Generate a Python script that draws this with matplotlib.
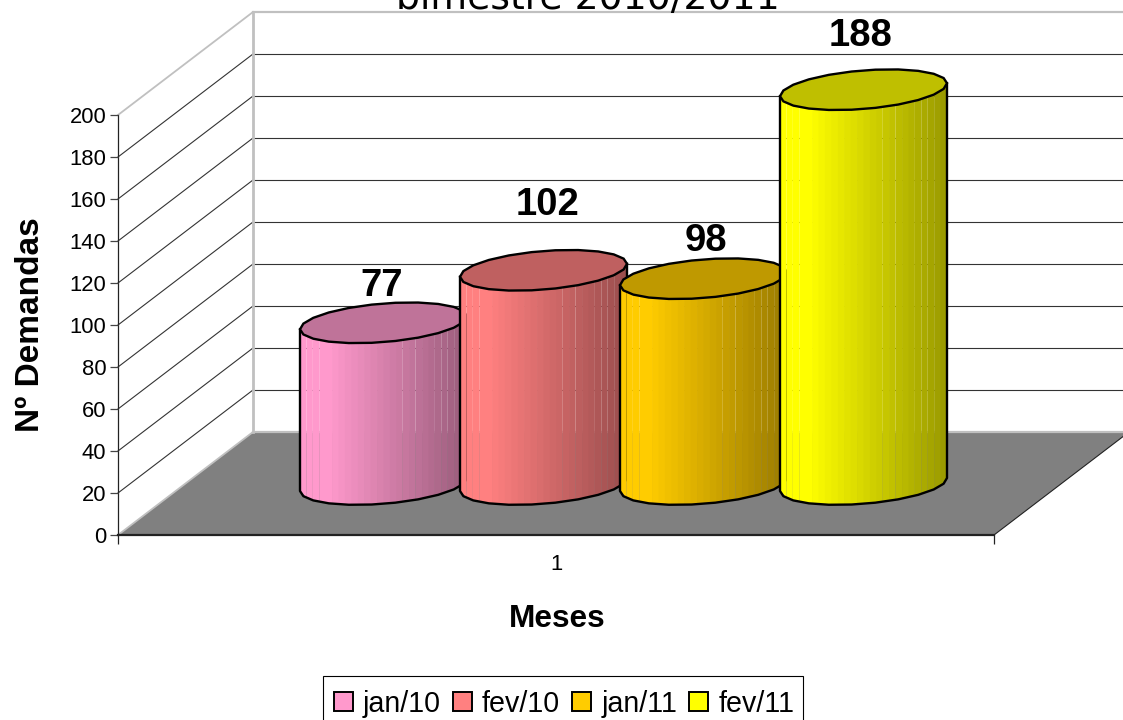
import numpy as np
import matplotlib
matplotlib.use("Agg")
import matplotlib.pyplot as plt
from matplotlib.patches import Patch, Polygon, Rectangle
from matplotlib.lines import Line2D
from matplotlib.transforms import Affine2D, IdentityTransform

months = ["jan/10", "fev/10", "jan/11", "fev/11"]
demandas = [77, 102, 98, 188]
colors = ["#FF99CC", "#FF8080", "#FFCC00", "#FFFF00"]
y_ticks = list(range(0, 201, 20))
group_label = "1"
title = "bimestre 2010/2011"

plt.rcParams["font.family"] = ["Liberation Sans", "DejaVu Sans"]

fig = plt.figure(figsize=(11.23, 7.2), dpi=100)
ax = fig.add_axes([118 / 1123, 185 / 720, 876 / 1123, 420 / 720])
ax.set_xlim(0.5, 1.5)
ax.set_ylim(0, 200)
ax.patch.set_visible(False)
ax.spines["top"].set_visible(False)
ax.spines["right"].set_visible(False)
ax.spines["left"].set_linewidth(0.9)
ax.spines["left"].set_color("#222222")
ax.spines["left"].set_zorder(1)
ax.spines["bottom"].set_linewidth(1.6)
ax.spines["bottom"].set_color("#222222")
ax.spines["bottom"].set_zorder(2)

ax.set_yticks(y_ticks)
ax.tick_params(axis="y", labelsize=15.8, length=6, width=0.9, color="#444444", pad=2.5)
ax.set_xticks([0.5, 1.5], ["", ""])
ax.set_xticks([1], [group_label], minor=True)
ax.tick_params(axis="x", which="major", length=6.5, width=0.9, color="#222222")
ax.tick_params(axis="x", which="minor", length=0, labelsize=15.8, pad=13.5)

identity = IdentityTransform()
DEPTH_X, DEPTH_Y = 135, 103
back = ax.transData + Affine2D().translate(DEPTH_X, DEPTH_Y)
x0, x1 = ax.get_xlim()


def disp(x, v, depth=0.0):
    px, py = ax.transData.transform((x, v))
    return px + DEPTH_X * depth, py + DEPTH_Y * depth


# floor
floor = [disp(x0, 0), disp(x1, 0), disp(x1, 0, 1), disp(x0, 0, 1)]
ax.add_patch(Polygon(floor, closed=True, facecolor="#808080", edgecolor="none",
                     transform=identity, clip_on=False, zorder=0.5))
ax.add_line(Line2D(*zip(floor[1], floor[2]), color="#222222", lw=0.8, transform=identity, clip_on=False, zorder=0.6))

# walls and grid
for v in y_ticks:
    silver = v in (0, 200)
    col = "#C0C0C0" if silver else "#333333"
    lw = 1.6 if silver else 0.8
    ax.plot([x0, x1], [v, v], color=col, lw=lw, transform=back, clip_on=False, zorder=0.7)
    a, b = disp(x0, v), disp(x0, v, 1)
    ax.add_line(Line2D([a[0], b[0]], [a[1], b[1]], color=col, lw=lw if not silver else 1.3,
                       transform=identity, clip_on=False, zorder=0.7))
ax.plot([x0, x0], [0, 200], color="#C0C0C0", lw=2, transform=back, clip_on=False, zorder=0.8)

# cylinders
bar_step = 160 / 876
bar_width = 167 / 876
OFF_X, OFF_Y = 67.5, 50.5
TILT = 6.5
MINOR = 19.3
seams = [0.04, 0.06, 0.10, 0.62, 0.68, 0.74, 0.79, 0.85, 0.885, 0.92]
n_bands = 26


def ellipse_arc(cx, cy, half, t):
    return cx + half * np.cos(t), cy + MINOR * np.sin(t) + TILT * np.cos(t)


for i, (val, col) in enumerate(zip(demandas, colors)):
    x = 1 + (i - 1.5) * bar_step
    cx, cy_top = disp(x, val)
    _, cy_bot = disp(x, 0)
    cx += OFF_X
    cy_top += OFF_Y
    cy_bot += OFF_Y
    half = ax.transData.transform((x + bar_width / 2, 0))[0] - ax.transData.transform((x, 0))[0]
    z = 3 + i * 0.1
    rgb = np.array(matplotlib.colors.to_rgb(col))

    t_low = np.linspace(np.pi, 2 * np.pi, 12)
    ax_low, ay_low = ellipse_arc(cx, 0, half, t_low)
    edges = np.linspace(0, 1, n_bands + 1)
    for a, b in zip(edges[:-1], edges[1:]):
        mid = (a + b) / 2
        f = 1.0 if mid < 0.17 else 1.0 - 0.4 * (mid - 0.17) / 0.83
        gap = any(abs(b - s) < 0.5 / n_bands for s in seams)
        xa = cx - half + 2 * half * a
        xb = cx - half + 2 * half * b + (0.0 if gap else 0.7)
        xb = min(xb, cx + half)
        xs = np.array([xa, xb])
        ys = np.interp(xs, ax_low, ay_low)
        pts = [(xa, cy_bot + ys[0]), (xb, cy_bot + ys[1]), (xb, cy_top + ys[1]), (xa, cy_top + ys[0])]
        ax.add_patch(Polygon(pts, closed=True, facecolor=rgb * f, edgecolor="none",
                             transform=identity, clip_on=False, zorder=z))
    # outline of the side
    ox = np.concatenate([[ax_low[0]], ax_low, [ax_low[-1]]])
    oy = np.concatenate([[cy_top + ay_low[0]], cy_bot + ay_low, [cy_top + ay_low[-1]]])
    ax.add_line(Line2D(ox, oy, color="black", lw=1.7, transform=identity, clip_on=False,
                       zorder=z + 0.01, solid_joinstyle="round"))
    # top cap
    t_all = np.linspace(0, 2 * np.pi, 23)
    tx, ty = ellipse_arc(cx, cy_top, half, t_all)
    ax.add_patch(Polygon(np.column_stack([tx, ty]), closed=True, facecolor=rgb * 0.75, edgecolor="black",
                         lw=1.7, transform=identity, clip_on=False, zorder=z + 0.02))

# value labels
label_shift = [(-2, 37), (4.5, 65), (2, 38), (-3, 54)]
for i, val in enumerate(demandas):
    x = 1 + (i - 1.5) * bar_step
    sx, sy = label_shift[i]
    ax.annotate(str(val), (x, val), xytext=(OFF_X + sx, OFF_Y + sy), textcoords="offset pixels",
                ha="center", va="center", fontsize=27.5, fontweight="bold", color="black",
                annotation_clip=False, zorder=5)

fig.text(557 / 1123, (720 - 619) / 720, "Meses", ha="center", va="center", fontsize=22.8, fontweight="bold")
fig.text(31 / 1123, (720 - 325) / 720, "Nº Demandas", ha="center", va="center", rotation=90,
         fontsize=24, fontweight="bold")
fig.text(588 / 1123, (720 - 9) / 720, title, ha="center", va="baseline", fontsize=27.2,
         family="DejaVu Sans", color="black")

handles = [Patch(facecolor=c, edgecolor="black", lw=1.4) for c in colors]
fig.legend(handles, months, loc="upper left", bbox_to_anchor=(323 / 1123, (720 - 679) / 720),
           bbox_transform=fig.transFigure, ncol=4, fontsize=20.6, frameon=False,
           borderaxespad=0, borderpad=0.38, handlelength=0.66,
           handleheight=0.66, handletextpad=0.35, columnspacing=0.43)
fig.add_artist(Rectangle((323, -10), 480, 54, transform=identity, facecolor="none", edgecolor="black", lw=0.8))

fig.savefig("out.png", dpi=100)
